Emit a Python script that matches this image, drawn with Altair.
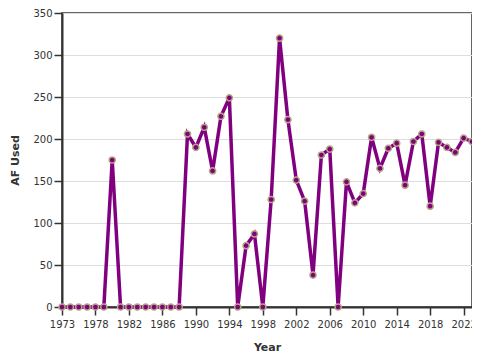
import altair as alt
import pandas as pd

years = [1973, 1975, 1976, 1977] + list(range(1978, 2024))
af_used = [0, 0, 0, 0, 0, 0, 175, 0, 0, 0,
           0, 0, 0, 0, 0, 206, 190, 214, 162, 227,
           249, 0, 73, 87, 0, 128, 320, 223, 151, 126,
           38, 181, 188, 0, 149, 124, 135, 202, 165, 189,
           195, 145, 197, 206, 120, 196, 190, 184, 201, 197]
tick_years = ["1973", "1978", "1982", "1986", "1990", "1994", "1998",
              "2002", "2006", "2010", "2014", "2018", "2022"]

df = pd.DataFrame({"pos": list(range(len(years))),
                   "Year": [str(y) for y in years],
                   "AF Used": af_used})

tick_pos = [int(df.index[df["Year"] == t][0]) for t in tick_years]
label_map = "{" + ",".join(f"'{p}':'{t}'" for p, t in zip(tick_pos, tick_years)) + "}"

font = "DejaVu Sans"

base = alt.Chart(df).encode(
    x=alt.X("pos:Q", title="Year",
            scale=alt.Scale(domain=[0, len(years) - 1], nice=False, zero=False),
            axis=alt.Axis(values=tick_pos, labelExpr=f"{label_map}[''+datum.value]",
                          labelAngle=0, labelOverlap=False, labelFlush=False,
                          labelBound=False, grid=False, tickSize=8,
                          labelPadding=4, titlePadding=12)),
    y=alt.Y("AF Used:Q",
            scale=alt.Scale(domain=[0, 350]),
            axis=alt.Axis(values=[0, 50, 100, 150, 200, 250, 300, 350],
                          tickSize=8, labelPadding=2, titlePadding=12)),
)

line = base.mark_line(color="#800080", strokeWidth=3.5)
points = base.mark_point(filled=True, fill="#800080", stroke="#b4a882",
                         strokeWidth=1.5, size=38, opacity=1)

chart = (line + points).properties(
    width=410, height=294,
    autosize=alt.AutoSizeParams(type="none"),
    padding={"left": 54, "top": 5, "right": 0, "bottom": 53},
).configure_axis(
    domainColor="#333333", domainWidth=2, tickColor="#333333", tickWidth=1.5,
    labelFont=font, labelFontSize=10, labelColor="#333333",
    titleFont=font, titleFontSize=11, titleFontWeight="bold", titleColor="#333333",
    gridColor="#dddddd", gridWidth=1,
).configure_view(
    stroke="#333333", strokeWidth=1.5,
)

chart.save("out.html", embed_options={"renderer": "svg", "actions": False})
